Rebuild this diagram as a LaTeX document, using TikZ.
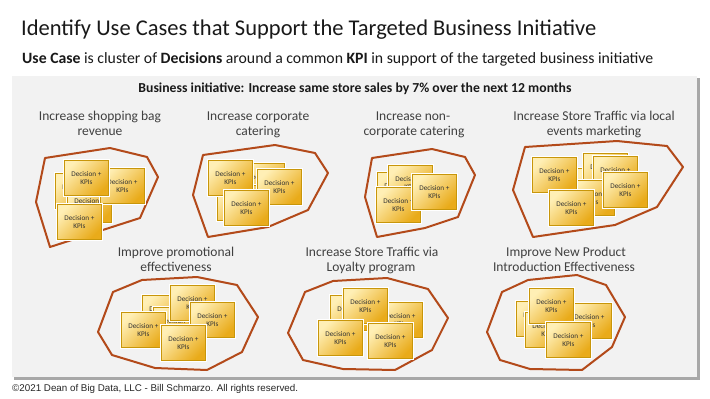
\documentclass[tikz,border=0pt]{standalone}
\usepackage{fontspec}
\setmainfont{Carlito}
\newfontfamily\footfont{Liberation Sans}
\definecolor{zonecol}{HTML}{B34A1A}
\definecolor{cardlight}{HTML}{FFEFB5}
\definecolor{carddark}{HTML}{E9AB1A}
\definecolor{cardedge}{HTML}{C8960A}
\definecolor{cardtext}{HTML}{333333}
\definecolor{panelfill}{HTML}{F2F2F2}
\definecolor{panelshadow}{HTML}{A8A8A8}
\definecolor{lblcol}{HTML}{404040}
\begin{document}
\begin{tikzpicture}[x=1pt,y=-1pt,
  card/.style={anchor=north west, minimum width=44pt, minimum height=35pt, inner sep=0pt,
    align=center, font=\fontsize{7.2}{8.6}\selectfont, text=cardtext, draw=cardedge,
    line width=0.8pt, top color=cardlight, bottom color=carddark, shading angle=45,
    preaction={draw=white, line width=2.6pt}},
  zone/.style={draw=zonecol, line width=2pt, line join=round},
  lbl/.style={anchor=base, inner sep=0pt, text=lblcol, font=\fontsize{13.5}{16}\selectfont}]
\useasboundingbox (0,0) rectangle (710,399);
\fill[white] (0,0) rectangle (710,399);
% title
\node[anchor=base west, inner sep=0pt, font=\fontsize{22.5}{27}\selectfont, text=black!90] (title) at (21,35)
  {Identify Use Cases that Support the Targeted Business Initiative};
\node[anchor=base west, inner sep=0pt, font=\fontsize{15.75}{18}\selectfont, text=black!90] (subtitle) at (22,63)
  {\textbf{Use Case} is cluster of \textbf{Decisions} around a common \textbf{KPI} in support of the targeted business initiative};
% panel
\fill[panelshadow] (14,78) rectangle (700,380);
\fill[panelfill] (12,76) rectangle (697,377);
\node[anchor=base, inner sep=0pt, font=\bfseries\fontsize{13.7}{16}\selectfont, text=black!90] (header) at (355,92)
  {Business initiative: Increase same store sales by 7\% over the next 12 months};
% labels row 1
\node[lbl] (l1a) at (100,120) {Increase shopping bag};
\node[lbl] (l1b) at (100,135) {revenue};
\node[lbl] (l2a) at (258,120) {Increase corporate};
\node[lbl] (l2b) at (258,135) {catering};
\node[lbl] (l3a) at (413,120) {Increase non-};
\node[lbl] (l3b) at (414,135) {corporate catering};
\node[lbl] (l4a) at (594,120) {Increase Store Traffic via local};
\node[lbl] (l4b) at (594,135) {events marketing};
% labels row 2
\node[lbl] (l5a) at (176,256) {Improve promotional};
\node[lbl] (l5b) at (176,271) {effectiveness};
\node[lbl] (l6a) at (372,256) {Increase Store Traffic via};
\node[lbl] (l6b) at (371,271) {Loyalty program};
\node[lbl] (l7a) at (566,256) {Improve New Product};
\node[lbl] (l7b) at (564,271) {Introduction Effectiveness};
% group 1
\draw[zone] (45,158) -- (110,148) -- (147,157) -- (158,177) -- (140,218) -- (50,247) -- (36,202) -- cycle;
\node[card] (g1a) at (55,173) {Decision +\\KPIs};
\node[card] (g1b) at (67,187) {Decision +\\KPIs};
\node[card] (g1c) at (100,168) {Decision +\\KPIs};
\node[card] (g1d) at (64,160) {Decision +\\KPIs};
\node[card] (g1e) at (57,204) {Decision +\\KPIs};
% group 2
\draw[zone] (203,155) -- (275,145) -- (315,153) -- (328,173) -- (308,210) -- (268,227) -- (208,237) -- (193,195) -- cycle;
\node[card] (g2a) at (240,163) {Decision +\\KPIs};
\node[card] (g2b) at (217,185) {Decision +\\KPIs};
\node[card] (g2c) at (208,160) {Decision +\\KPIs};
\node[card] (g2d) at (257,169) {Decision +\\KPIs};
\node[card] (g2e) at (224,190) {Decision +\\KPIs};
% group 3
\draw[zone] (372,158) -- (432,149) -- (465,157) -- (475,175) -- (458,217) -- (425,228) -- (377,237) -- (365,197) -- cycle;
\node[card] (g3a) at (377,172) {Decision +\\KPIs};
\node[card] (g3b) at (388,165) {Decision +\\KPIs};
\node[card] (g3c) at (376,187) {Decision +\\KPIs};
\node[card] (g3d) at (412,174) {Decision +\\KPIs};
% group 4
\draw[zone] (525,147) -- (617,141) -- (667,146) -- (683,167) -- (657,207) -- (615,225) -- (533,237) -- (513,190) -- cycle;
\node[card] (g4a) at (575,168) {Decision +\\KPIs};
\node[card] (g4b) at (583,153) {Decision +\\KPIs};
\node[card] (g4c) at (593,156) {Decision +\\KPIs};
\node[card] (g4d) at (570,180) {Decision +\\KPIs};
\node[card] (g4e) at (532,157) {Decision +\\KPIs};
\node[card] (g4f) at (549,190) {Decision +\\KPIs};
\node[card] (g4g) at (603,172) {Decision +\\KPIs};
% group 5
\draw[zone] (113,292) -- (142,280) -- (197,277) -- (237,285) -- (258,317) -- (242,352) -- (207,370) -- (155,368) -- (112,355) -- (98,332) -- cycle;
\node[card] (g5a) at (142,295) {Decision +\\KPIs};
\node[card] (g5b) at (153,307) {Decision +\\KPIs};
\node[card] (g5c) at (170,285) {Decision +\\KPIs};
\node[card] (g5d) at (121,312) {Decision +\\KPIs};
\node[card] (g5e) at (190,302) {Decision +\\KPIs};
\node[card] (g5f) at (161,325) {Decision +\\KPIs};
% group 6
\draw[zone] (305,292) -- (333,281) -- (387,278) -- (428,289) -- (448,318) -- (432,350) -- (395,370) -- (343,369) -- (303,360) -- (288,333) -- cycle;
\node[card] (g6a) at (330,295) {Decision +\\KPIs};
\node[card] (g6b) at (378,302) {Decision +\\KPIs};
\node[card] (g6c) at (343,288) {Decision +\\KPIs};
\node[card] (g6d) at (318,320) {Decision +\\KPIs};
\node[card] (g6e) at (368,323) {Decision +\\KPIs};
% group 7
\draw[zone] (502,292) -- (528,280) -- (577,275) -- (606,285) -- (625,317) -- (612,347) -- (582,370) -- (530,369) -- (500,360) -- (487,332) -- cycle;
\node[card] (g7a) at (516,301) {Decision +\\KPIs};
\node[card] (g7b) at (525,312) {Decision +\\KPIs};
\node[card] (g7d) at (567,303) {Decision +\\KPIs};
\node[card] (g7e) at (529,288) {Decision +\\KPIs};
\node[card] (g7f) at (546,322) {Decision +\\KPIs};
% footer
\node[anchor=base west, inner sep=0pt, font=\footfont\fontsize{9.8}{11}\selectfont, text=black!85] (footer) at (12,391)
  {\textcopyright2021 Dean of Big Data, LLC - Bill Schmarzo. All rights reserved.};
\end{tikzpicture}
\end{document}
